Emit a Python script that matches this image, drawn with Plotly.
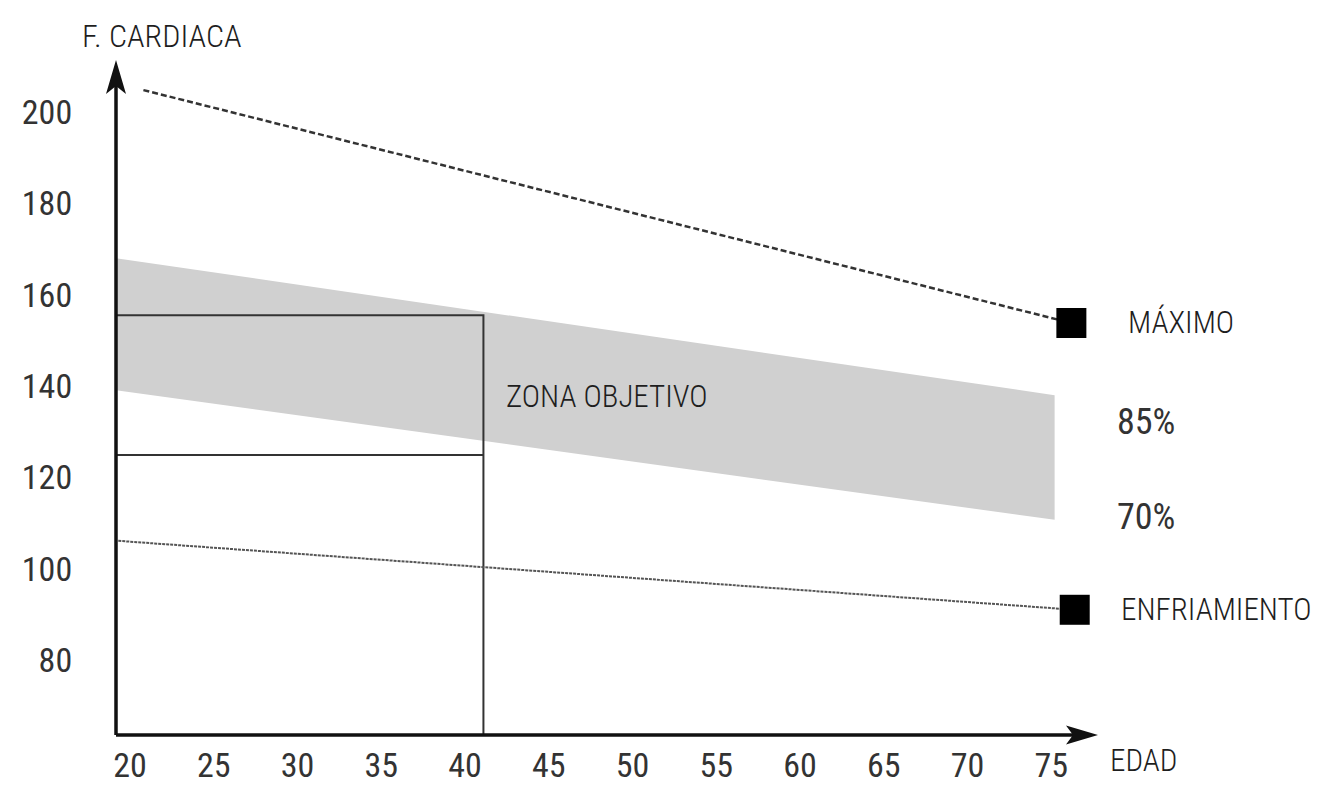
import plotly.graph_objects as go

# ---------------- data ----------------
age_ticks = [20, 25, 30, 35, 40, 45, 50, 55, 60, 65, 70, 75]
age_tick_text = ["20", "25", "30", "35", "40", "45", "50", "55", "60", "65", "70", "75"]
hr_ticks = [80, 100, 120, 140, 160, 180, 200]
hr_tick_text = ["80", "100", "120", "140", "160", "180", "200"]

# line of maximum heart rate
max_age = [20.8, 76.2]
max_hr = [204.8, 153.8]

# cool-down line
cool_age = [19.3, 76.4]
cool_hr = [106.1, 91.0]

# target zone band (70% - 85%)
band_age = [19.16, 75.2]
band_upper = [168.0, 138.0]   # 85 %
band_lower = [139.1, 110.7]   # 70 %
band_label_hr = [132.1, 111.3]  # heights of the "85%" and "70%" labels

# example box for one age
box_age = 41.1
box_hr_high = 155.5
box_hr_low = 124.9

# axis ranges
x_range = [19.164, 77.79]
y_range = [63.58, 211.39]

# ---------------- styles ----------------
FONT = "Roboto Condensed, Liberation Sans Narrow, Arial Narrow, sans-serif"
TXT_COLOR = "#1e1e1e"
NUM_COLOR = "#333333"
AX_COLOR = "#111111"

fig = go.Figure()

# gray band
fig.add_trace(go.Scatter(
    x=[band_age[0], band_age[1], band_age[1], band_age[0], band_age[0]],
    y=[band_upper[0], band_upper[1], band_lower[1], band_lower[0], band_upper[0]],
    mode="lines", fill="toself", fillcolor="#d0d0d0",
    line=dict(width=0, color="#d0d0d0"), hoverinfo="skip", showlegend=False))

# box
fig.add_trace(go.Scatter(
    x=[x_range[0], box_age, box_age], y=[box_hr_high, box_hr_high, y_range[0]],
    mode="lines", line=dict(color="#333333", width=2), showlegend=False))
fig.add_trace(go.Scatter(
    x=[x_range[0], box_age], y=[box_hr_low, box_hr_low],
    mode="lines", line=dict(color="#333333", width=2), showlegend=False))

# max line
fig.add_trace(go.Scatter(
    x=max_age, y=max_hr, mode="lines",
    line=dict(color="#333333", width=2.5, dash="6px,3px"), showlegend=False))
fig.add_trace(go.Scatter(
    x=[max_age[-1]], y=[max_hr[-1]], mode="markers",
    marker=dict(symbol="square", size=30, color="black"), showlegend=False))

# cool-down line
fig.add_trace(go.Scatter(
    x=cool_age, y=cool_hr, mode="lines",
    line=dict(color="#555555", width=2, dash="3px,1px"), showlegend=False))
fig.add_trace(go.Scatter(
    x=[cool_age[-1]], y=[cool_hr[-1]], mode="markers",
    marker=dict(symbol="square", size=30, color="black"), showlegend=False))

# plot area geometry (px) for arrow shapes
PW, PH = 982, 675

shapes = [
    dict(type="line", xref="paper", yref="paper", x0=0, y0=0, x1=1 - 20 / PW, y1=0,
         line=dict(color=AX_COLOR, width=3.5)),
    dict(type="line", xref="paper", yref="paper", x0=0, y0=0, x1=0, y1=1 - 20 / PH,
         line=dict(color=AX_COLOR, width=3.5)),
    dict(type="path", xref="paper", yref="paper",
         path=f"M 1 0 L {1-32/PW} {9.5/PH} L {1-25/PW} 0 L {1-32/PW} {-9.5/PH} Z",
         fillcolor=AX_COLOR, line=dict(width=0)),
    dict(type="path", xref="paper", yref="paper",
         path=f"M 0 1 L {10/PW} {1-34/PH} L 0 {1-26/PH} L {-10/PW} {1-34/PH} Z",
         fillcolor=AX_COLOR, line=dict(width=0)),
]

lab = dict(family=FONT, size=31, color=TXT_COLOR, weight=300)
num = dict(family=FONT, size=36, color=NUM_COLOR, weight=400)

annotations = [
    dict(text="F. CARDIACA", xref="paper", yref="paper", x=(80 - 116) / PW, y=(735 - 36) / PH,
         xanchor="left", yanchor="middle", showarrow=False,
         font=dict(family=FONT, size=32, color=TXT_COLOR, weight=300)),
    dict(text="EDAD", xref="paper", yref="paper", x=(1108 - 116) / PW, y=(735 - 760) / PH,
         xanchor="left", yanchor="middle", showarrow=False, font=lab),
    dict(text="MÁXIMO", x=max_age[-1], y=max_hr[-1], xshift=55, xanchor="left", yanchor="middle",
         showarrow=False, font=lab),
    dict(text="ENFRIAMIENTO", x=cool_age[-1], y=cool_hr[-1], xshift=44, xanchor="left",
         yanchor="middle", showarrow=False, font=lab),
    dict(text="85%", xref="paper", yref="y", x=(1115 - 116) / PW, y=band_label_hr[0],
         xanchor="left", yanchor="middle", showarrow=False, font=num),
    dict(text="70%", xref="paper", yref="y", x=(1115 - 116) / PW, y=band_label_hr[1],
         xanchor="left", yanchor="middle", showarrow=False, font=num),
    dict(text="ZONA OBJETIVO", x=42.3, y=137.6, xanchor="left", yanchor="middle", showarrow=False,
         font=lab),
]

tickfont = dict(family=FONT, size=34, color=NUM_COLOR, weight=400)

fig.update_layout(
    width=1320, height=795, autosize=False,
    margin=dict(l=116, r=222, t=60, b=60, autoexpand=False),
    paper_bgcolor="white", plot_bgcolor="white",
    showlegend=False, shapes=shapes, annotations=annotations,
    xaxis=dict(range=x_range, showgrid=False, zeroline=False, showline=False, automargin=False,
               tickmode="array", tickvals=age_ticks, ticktext=age_tick_text,
               ticks="outside", ticklen=0, ticklabelstandoff=0, tickfont=tickfont),
    yaxis=dict(range=y_range, showgrid=False, zeroline=False, showline=False, automargin=False,
               tickmode="array", tickvals=hr_ticks, ticktext=hr_tick_text,
               ticks="outside", ticklen=0, ticklabelstandoff=36, tickfont=tickfont),
)

fig.write_html("out.html")
